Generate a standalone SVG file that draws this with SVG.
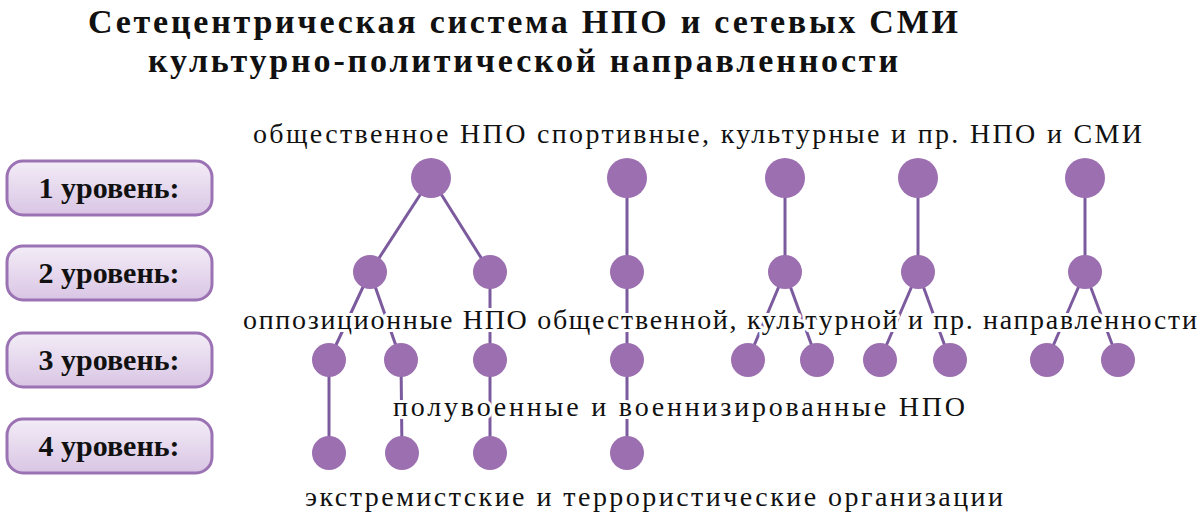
<svg xmlns="http://www.w3.org/2000/svg" width="1200" height="520" viewBox="0 0 1200 520">
<defs>
<linearGradient id="bg" x1="0" y1="0" x2="0" y2="1">
<stop offset="0" stop-color="#f3ecf7"/><stop offset="1" stop-color="#d9c5e4"/>
</linearGradient>
<style>
.t{font-family:"Liberation Serif",serif;font-weight:bold;font-size:34px;fill:#111}
.l{font-family:"Liberation Serif",serif;font-size:28px;fill:#111;stroke:#fff;stroke-width:6px;paint-order:stroke;stroke-linejoin:round}
.bt{font-family:"Liberation Serif",serif;font-weight:bold;font-size:30px;fill:#111}
.b{fill:url(#bg);stroke:#9b72b3;stroke-width:3}
.n{fill:#9b6fb0}
#edges line{stroke:#7b5a9e;stroke-width:3}
</style>
</defs>
<rect width="1200" height="520" fill="#fff"/>
<text class="t" x="523" y="33" text-anchor="middle" textLength="870">Сетецентрическая система НПО и сетевых СМИ</text>
<text class="t" x="523" y="72" text-anchor="middle" textLength="750">культурно-политической направленности</text>
<g id="levels">
<g id="lv1"><rect class="b" x="7" y="161" width="205" height="54" rx="16"/><text class="bt" x="109" y="198" text-anchor="middle">1 уровень:</text></g>
<g id="lv2"><rect class="b" x="7" y="246" width="205" height="54" rx="16"/><text class="bt" x="109" y="283" text-anchor="middle">2 уровень:</text></g>
<g id="lv3"><rect class="b" x="7" y="333" width="205" height="54" rx="16"/><text class="bt" x="109" y="370" text-anchor="middle">3 уровень:</text></g>
<g id="lv4"><rect class="b" x="7" y="419" width="205" height="54" rx="16"/><text class="bt" x="109" y="456" text-anchor="middle">4 уровень:</text></g>
</g>
<g id="edges">
<line x1="431" y1="178" x2="370" y2="272"/><line x1="431" y1="178" x2="490" y2="272"/>
<line x1="627" y1="178" x2="627" y2="453"/>
<line x1="785" y1="178" x2="785" y2="272"/><line x1="785" y1="272" x2="748" y2="360"/><line x1="785" y1="272" x2="817" y2="360"/>
<line x1="918" y1="178" x2="918" y2="272"/><line x1="918" y1="272" x2="880" y2="360"/><line x1="918" y1="272" x2="950" y2="360"/>
<line x1="1085" y1="178" x2="1085" y2="272"/><line x1="1085" y1="272" x2="1047" y2="360"/><line x1="1085" y1="272" x2="1118" y2="360"/>
<line x1="370" y1="272" x2="329" y2="360"/><line x1="370" y1="272" x2="401" y2="360"/>
<line x1="490" y1="272" x2="490" y2="453"/>
<line x1="329" y1="360" x2="329" y2="453"/><line x1="401" y1="360" x2="402" y2="453"/>
</g>
<g id="labels">
<text class="l" x="253" y="143" textLength="889">общественное НПО спортивные, культурные и пр. НПО и СМИ</text>
<text class="l" x="243" y="329" textLength="954">оппозиционные НПО общественной, культурной и пр. направленности</text>
<text class="l" x="393" y="416" textLength="572">полувоенные и военнизированные НПО</text>
<text class="l" x="305" y="506" textLength="698">экстремистские и террористические организации</text>
</g>
<g id="nodes">
<circle class="n" cx="431" cy="178" r="20"/><circle class="n" cx="627" cy="178" r="20"/><circle class="n" cx="785" cy="178" r="20"/><circle class="n" cx="918" cy="178" r="20"/><circle class="n" cx="1085" cy="178" r="20"/>
<circle class="n" cx="370" cy="272" r="17"/><circle class="n" cx="490" cy="272" r="17"/><circle class="n" cx="627" cy="272" r="17"/><circle class="n" cx="785" cy="272" r="17"/><circle class="n" cx="918" cy="272" r="17"/><circle class="n" cx="1085" cy="272" r="17"/>
<circle class="n" cx="329" cy="360" r="17"/><circle class="n" cx="401" cy="360" r="17"/><circle class="n" cx="490" cy="360" r="17"/><circle class="n" cx="627" cy="360" r="17"/><circle class="n" cx="748" cy="360" r="17"/><circle class="n" cx="817" cy="360" r="17"/><circle class="n" cx="880" cy="360" r="17"/><circle class="n" cx="950" cy="360" r="17"/><circle class="n" cx="1047" cy="360" r="17"/><circle class="n" cx="1118" cy="360" r="17"/>
<circle class="n" cx="329" cy="453" r="17"/><circle class="n" cx="402" cy="453" r="17"/><circle class="n" cx="490" cy="453" r="17"/><circle class="n" cx="627" cy="453" r="17"/>
</g>
</svg>
